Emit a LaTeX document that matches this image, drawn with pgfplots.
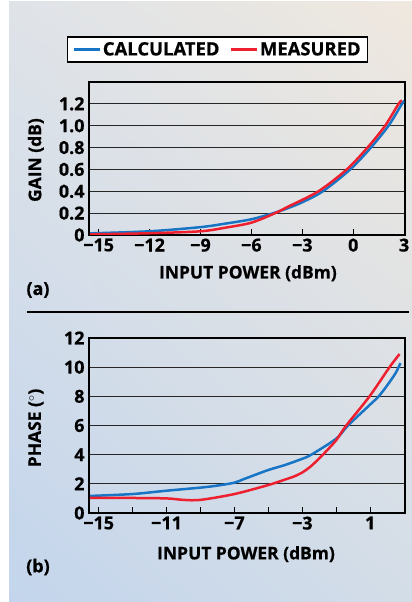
\documentclass[border=0pt]{standalone}
\usepackage{fontspec}
\setmainfont{Open Sans}[BoldFeatures={FakeBold=0.6}]
\usepackage{pgfplots}
\pgfplotsset{compat=1.18}
\usetikzlibrary{shadings}
\definecolor{cblue}{HTML}{1874C4}
\definecolor{cred}{HTML}{EE2030}
\definecolor{bgtl}{HTML}{DFE3E8}
\definecolor{bgtr}{HTML}{EFE8DF}
\definecolor{bgbl}{HTML}{C3D5EC}
\definecolor{bgbr}{HTML}{D3DDE8}
\begin{document}
\begin{tikzpicture}
\path[use as bounding box] (0bp,0bp) rectangle (412bp,602bp);
\fill[white] (0bp,0bp) rectangle (412bp,602bp);
\shade[upper left=bgtl, upper right=bgtr, lower left=bgbl, lower right=bgbr] (9bp,0bp) rectangle (412bp,600bp);
\draw[line width=1.2bp] (27bp,290bp) -- (409bp,290bp);
\pgfplotsset{
  myax/.style={
    scale only axis, width=316bp,
    axis line style={line width=1.5bp},
    tick label style={font=\bfseries\fontsize{18}{20}\selectfont},
    label style={font=\bfseries\fontsize{17.5}{20}\selectfont},
    /pgf/number format/assume math mode=true,
    ytick style={draw=none},
    xtick style={line width=1.2bp, black},
    xtick pos=bottom, tick align=inside, major tick length=6bp,
    ymajorgrids, grid style={line width=1.1bp, black!85},
    xmin=-15.57, xmax=3.05,
    yticklabel style={xshift=-1bp},
    xticklabel style={yshift=0bp},
  }
}
\begin{axis}[myax, at={(89bp,367bp)}, anchor=south west, height=153bp,
  ymin=0, ymax=1.4,
  ytick={0,0.2,0.4,0.6,0.8,1.0,1.2},
  yticklabels={0,0.2,0.4,0.6,0.8,1.0,1.2},
  xtick={-15,-12,-9,-6,-3,0,3},
  xticklabels={−15,−12,−9,−6,−3,0,3},
  xlabel={INPUT POWER (dBm)}, ylabel={GAIN (dB)},
  xlabel style={at={(axis description cs:0.503,-0.25)}, anchor=center},
  ylabel style={at={(axis description cs:-0.168,0.49)}, anchor=center},
  legend columns=2,
  legend style={at={(0.4066,1.2124)}, anchor=center, draw=black, line width=1.5bp,
    font=\bfseries\fontsize{18.5}{20}\selectfont, inner xsep=5bp, inner ysep=3bp,
    /tikz/every even column/.append style={column sep=8bp}},
  legend cell align=left,
  legend image code/.code={\draw[line width=2.5bp] (0bp,0bp) -- (26bp,0bp);},
]
\addplot[cblue, line width=2.5bp, smooth] coordinates {
(-15.5,0.015) (-12,0.034) (-9,0.072) (-7.5,0.105) (-6,0.144) (-4.7,0.2) (-3.83,0.247) (-3,0.3) (-1.79,0.4) (-0.18,0.6) (1.04,0.8) (2.08,1.0) (2.87,1.2) (3.0,1.225)};
\addlegendentry{CALCULATED}
\addplot[cred, line width=2.5bp, smooth] coordinates {
(-15.5,0.006) (-12,0.016) (-9,0.034) (-7.5,0.068) (-6,0.113) (-4.6,0.2) (-3.83,0.26) (-2.05,0.4) (-0.38,0.6) (0.84,0.8) (1.88,1.0) (2.67,1.2) (2.87,1.23)};
\addlegendentry{MEASURED}
\end{axis}
\begin{axis}[myax, at={(89bp,89bp)}, anchor=south west, height=175bp,
  ymin=0, ymax=12,
  ytick={0,2,4,6,8,10,12},
  xtick={-15,-13,-11,-9,-7,-5,-3,-1,1,3},
  xticklabels={−15,,−11,,−7,,−3,,1,},
  xlabel={INPUT POWER (dBm)}, ylabel={PHASE ($^\circ$)},
  xlabel style={at={(axis description cs:0.497,-0.235)}, anchor=center},
  ylabel style={at={(axis description cs:-0.168,0.486)}, anchor=center},
]
\addplot[cblue, line width=2.5bp, smooth] coordinates {
(-15.5,1.17) (-13,1.3) (-11,1.53) (-9,1.74) (-8,1.88) (-7,2.08) (-6.5,2.3) (-6,2.52) (-5,2.95) (-4,3.3) (-3,3.72) (-2.47,4.0) (-1,5.1) (-0.31,6.0) (1,7.44) (1.5,8.0) (2,8.75) (2.5,9.6) (2.78,10.28)};
\addplot[cred, line width=2.5bp, smooth] coordinates {
(-15.5,1.03) (-13,1.03) (-11,1.0) (-10,0.9) (-9,0.9) (-7,1.3) (-5,1.92) (-4,2.3) (-3.5,2.5) (-3,2.78) (-2.5,3.2) (-2,3.75) (-1.5,4.35) (-1,5.0) (-0.41,6.0) (0.96,8.0) (2.14,10.0) (2.73,10.9)};
\end{axis}
\node[font=\bfseries\fontsize{18}{20}\selectfont] at (38bp,312bp) {(a)};
\node[font=\bfseries\fontsize{18}{20}\selectfont] at (38bp,35bp) {(b)};
\end{tikzpicture}
\end{document}
